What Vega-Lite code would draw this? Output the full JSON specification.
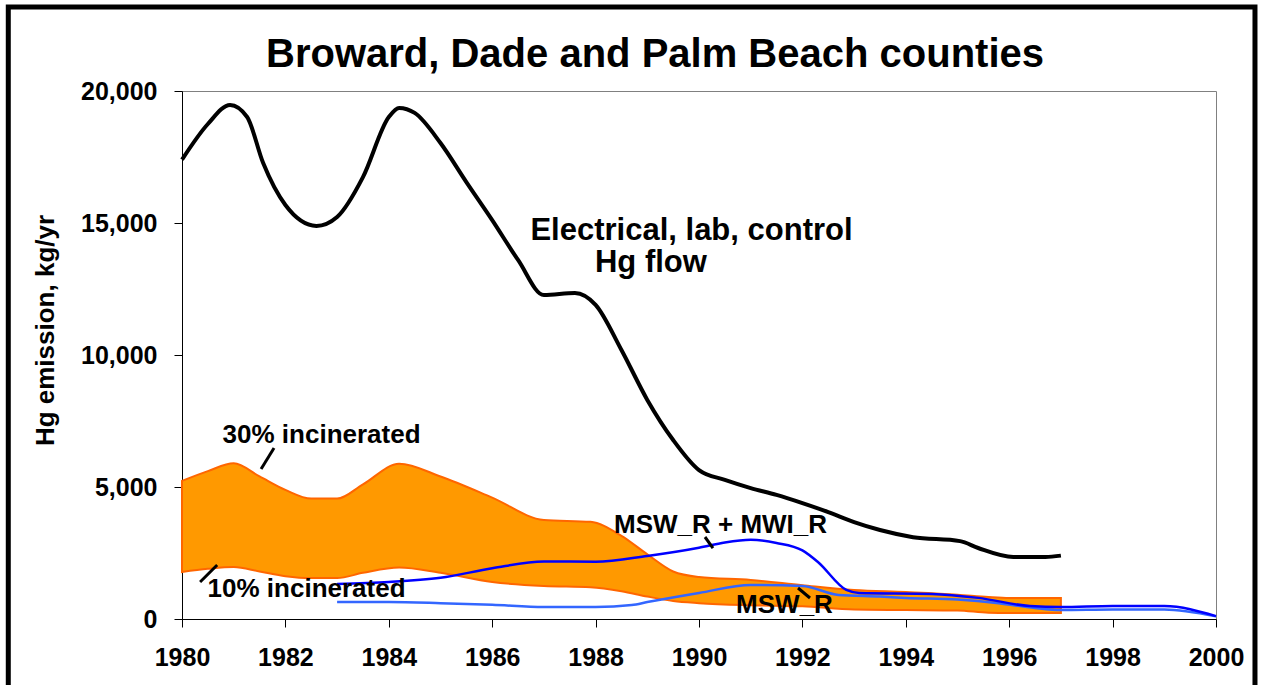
{
  "$schema": "https://vega.github.io/schema/vega-lite/v6.json",
  "width": 1034,
  "height": 528,
  "autosize": {"type": "none"},
  "padding": {"left": 182, "top": 91, "right": 45, "bottom": 66},
  "background": "white",
  "config": {
    "font": "Liberation Sans",
    "view": {"stroke": "#808080", "strokeWidth": 1}
  },
  "title": {
    "text": "Broward, Dade and Palm Beach counties",
    "fontSize": 40,
    "fontWeight": "bold",
    "color": "black",
    "font": "Liberation Sans",
    "anchor": "middle",
    "frame": "group",
    "baseline": "alphabetic",
    "dx": -44,
    "offset": -103
  },
  "datasets": {
    "band": [
      {"year": 1980, "hi": 5230, "lo": 1780},
      {"year": 1980.5, "hi": 5600, "lo": 1900},
      {"year": 1981, "hi": 5900, "lo": 1970},
      {"year": 1981.5, "hi": 5400, "lo": 1800},
      {"year": 1982, "hi": 4890, "lo": 1620},
      {"year": 1982.5, "hi": 4560, "lo": 1550},
      {"year": 1983, "hi": 4560, "lo": 1550},
      {"year": 1983.5, "hi": 5100, "lo": 1750},
      {"year": 1984.2, "hi": 5880, "lo": 1950},
      {"year": 1985, "hi": 5400, "lo": 1750},
      {"year": 1986, "hi": 4600, "lo": 1400},
      {"year": 1987, "hi": 3750, "lo": 1250},
      {"year": 1987.9, "hi": 3680, "lo": 1200},
      {"year": 1988.5, "hi": 3150, "lo": 1050},
      {"year": 1989, "hi": 2450, "lo": 850},
      {"year": 1989.5, "hi": 1800, "lo": 680},
      {"year": 1990, "hi": 1590, "lo": 600},
      {"year": 1991, "hi": 1480, "lo": 520},
      {"year": 1992, "hi": 1280, "lo": 480},
      {"year": 1993, "hi": 1100, "lo": 360},
      {"year": 1994, "hi": 1020, "lo": 340},
      {"year": 1995, "hi": 920, "lo": 320},
      {"year": 1995.6, "hi": 830, "lo": 240},
      {"year": 1996, "hi": 795, "lo": 230},
      {"year": 1997, "hi": 795, "lo": 230}
    ],
    "elec": [
      {"year": 1980, "value": 17400},
      {"year": 1980.5, "value": 18750},
      {"year": 1980.93, "value": 19470},
      {"year": 1981.26, "value": 19015},
      {"year": 1981.57, "value": 17270},
      {"year": 1982, "value": 15680},
      {"year": 1982.6, "value": 14890},
      {"year": 1983, "value": 15230},
      {"year": 1983.5, "value": 16740},
      {"year": 1984, "value": 19015},
      {"year": 1984.2, "value": 19360},
      {"year": 1984.5, "value": 19170},
      {"year": 1985, "value": 18030},
      {"year": 1985.5, "value": 16550},
      {"year": 1986, "value": 15110},
      {"year": 1986.5, "value": 13600},
      {"year": 1987, "value": 12270},
      {"year": 1987.6, "value": 12350},
      {"year": 1988, "value": 11900},
      {"year": 1988.5, "value": 10190},
      {"year": 1989, "value": 8300},
      {"year": 1989.5, "value": 6780},
      {"year": 1990, "value": 5640},
      {"year": 1990.5, "value": 5270},
      {"year": 1991, "value": 4960},
      {"year": 1991.5, "value": 4700},
      {"year": 1992, "value": 4390},
      {"year": 1992.5, "value": 4050},
      {"year": 1993, "value": 3670},
      {"year": 1993.5, "value": 3370},
      {"year": 1994.14, "value": 3100},
      {"year": 1995.05, "value": 2950},
      {"year": 1995.4, "value": 2690},
      {"year": 1996.08, "value": 2350},
      {"year": 1996.7, "value": 2350},
      {"year": 1997, "value": 2400}
    ],
    "mswmwi": [
      {"year": 1983, "value": 1330},
      {"year": 1984, "value": 1400},
      {"year": 1985, "value": 1560},
      {"year": 1986, "value": 1920},
      {"year": 1987, "value": 2180},
      {"year": 1988, "value": 2170},
      {"year": 1989, "value": 2390},
      {"year": 1990, "value": 2700},
      {"year": 1990.5, "value": 2900},
      {"year": 1991, "value": 3000},
      {"year": 1991.5, "value": 2880},
      {"year": 1992, "value": 2600},
      {"year": 1992.3, "value": 2160},
      {"year": 1992.85, "value": 1100},
      {"year": 1993.1, "value": 985},
      {"year": 1994.5, "value": 950},
      {"year": 1995.4, "value": 800},
      {"year": 1996.4, "value": 490},
      {"year": 1997, "value": 450},
      {"year": 1998, "value": 490},
      {"year": 1999, "value": 490},
      {"year": 2000, "value": 110}
    ],
    "msw": [
      {"year": 1983, "value": 640},
      {"year": 1984, "value": 640},
      {"year": 1985, "value": 600},
      {"year": 1986, "value": 540},
      {"year": 1987, "value": 450},
      {"year": 1988, "value": 450},
      {"year": 1988.7, "value": 530},
      {"year": 1989, "value": 640},
      {"year": 1990, "value": 985},
      {"year": 1991, "value": 1290},
      {"year": 1992, "value": 1250},
      {"year": 1992.7, "value": 910},
      {"year": 1993.5, "value": 850},
      {"year": 1994, "value": 800},
      {"year": 1995, "value": 740},
      {"year": 1995.8, "value": 600},
      {"year": 1996.5, "value": 415},
      {"year": 1997, "value": 340},
      {"year": 1998, "value": 360},
      {"year": 1999, "value": 360},
      {"year": 2000, "value": 100}
    ],
    "leaders": [
      {"year": 1981.78, "value": 6477, "year2": 1981.53, "value2": 5682},
      {"year": 1980.68, "value": 2045, "year2": 1980.35, "value2": 1402},
      {"year": 1990.116, "value": 3106, "year2": 1990.27, "value2": 2689},
      {"year": 1991.915, "value": 1174, "year2": 1992.147, "value2": 795}
    ],
    "smallLabels": [
      {"year": 1982.7, "value": 6667, "label": "30% incinerated"},
      {"year": 1982.41, "value": 833, "label": "10% incinerated"},
      {"year": 1990.416, "value": 3258, "label": "MSW_R + MWI_R"},
      {"year": 1991.654, "value": 227, "label": "MSW_R"}
    ],
    "bigLabels": [
      {"year": 1989.855, "value": 14357, "label": "Electrical, lab, control"},
      {"year": 1989.07, "value": 13145, "label": "Hg flow"}
    ]
  },
  "layer": [
    {
      "data": {"name": "band"},
      "mark": {"type": "area", "interpolate": "monotone", "fill": "#FF9900", "stroke": "#FF6600", "strokeWidth": 2},
      "encoding": {
        "x": {
          "field": "year", "type": "quantitative",
          "scale": {"domain": [1980, 2000], "nice": false, "zero": false},
          "axis": {
            "values": [1980, 1982, 1984, 1986, 1988, 1990, 1992, 1994, 1996, 1998, 2000],
            "format": "d", "title": null, "grid": false,
            "labelFontSize": 25, "labelFontWeight": "bold", "labelColor": "black", "labelFont": "Liberation Sans",
            "labelPadding": 18, "labelFlush": false, "labelOverlap": false,
            "tickColor": "black", "tickSize": 8, "tickWidth": 1,
            "domainColor": "black", "domainWidth": 1
          }
        },
        "y": {
          "field": "hi", "type": "quantitative",
          "title": "Hg emission, kg/yr",
          "scale": {"domain": [0, 20000], "nice": false},
          "axis": {
            "values": [0, 5000, 10000, 15000, 20000],
            "format": ",d", "grid": false,
            "title": "Hg emission, kg/yr",
            "titleFontSize": 26, "titleFontWeight": "bold", "titleColor": "black", "titleFont": "Liberation Sans",
            "titleAngle": 270, "titleBaseline": "alphabetic", "titleAlign": "center",
            "titleX": -129, "titleY": 239,
            "labelFontSize": 25, "labelFontWeight": "bold", "labelColor": "black", "labelFont": "Liberation Sans",
            "labelPadding": 17,
            "tickColor": "black", "tickSize": 8, "tickWidth": 1,
            "domainColor": "black", "domainWidth": 1
          }
        },
        "y2": {"field": "lo"}
      }
    },
    {
      "data": {"name": "msw"},
      "mark": {"type": "line", "interpolate": "monotone", "color": "#3366FF", "strokeWidth": 2.5},
      "encoding": {
        "x": {"field": "year", "type": "quantitative"},
        "y": {"field": "value", "type": "quantitative", "title": "Hg emission, kg/yr"}
      }
    },
    {
      "data": {"name": "mswmwi"},
      "mark": {"type": "line", "interpolate": "monotone", "color": "#0000FF", "strokeWidth": 2.5},
      "encoding": {
        "x": {"field": "year", "type": "quantitative"},
        "y": {"field": "value", "type": "quantitative", "title": "Hg emission, kg/yr"}
      }
    },
    {
      "data": {"name": "elec"},
      "mark": {"type": "line", "interpolate": "monotone", "color": "black", "strokeWidth": 4},
      "encoding": {
        "x": {"field": "year", "type": "quantitative"},
        "y": {"field": "value", "type": "quantitative", "title": "Hg emission, kg/yr"}
      }
    },
    {
      "data": {"name": "leaders"},
      "mark": {"type": "rule", "color": "black", "strokeWidth": 3},
      "encoding": {
        "x": {"field": "year", "type": "quantitative"},
        "y": {"field": "value", "type": "quantitative", "title": "Hg emission, kg/yr"},
        "x2": {"field": "year2"},
        "y2": {"field": "value2"}
      }
    },
    {
      "data": {"name": "smallLabels"},
      "mark": {"type": "text", "font": "Liberation Sans", "fontSize": 26, "fontWeight": "bold", "color": "black", "align": "center", "baseline": "alphabetic"},
      "encoding": {
        "x": {"field": "year", "type": "quantitative"},
        "y": {"field": "value", "type": "quantitative", "title": "Hg emission, kg/yr"},
        "text": {"field": "label"}
      }
    },
    {
      "data": {"name": "bigLabels"},
      "mark": {"type": "text", "font": "Liberation Sans", "fontSize": 31, "fontWeight": "bold", "color": "black", "align": "center", "baseline": "alphabetic"},
      "encoding": {
        "x": {"field": "year", "type": "quantitative"},
        "y": {"field": "value", "type": "quantitative", "title": "Hg emission, kg/yr"},
        "text": {"field": "label"}
      }
    },
    {
      "data": {"values": [{}]},
      "mark": {"type": "rect", "fill": null, "stroke": "black", "strokeWidth": 5, "clip": false},
      "encoding": {
        "x": {"datum": 1976.64, "type": "quantitative"},
        "x2": {"datum": 2000.754},
        "y": {"datum": 23182, "type": "quantitative"},
        "y2": {"datum": -3100}
      }
    }
  ]
}
